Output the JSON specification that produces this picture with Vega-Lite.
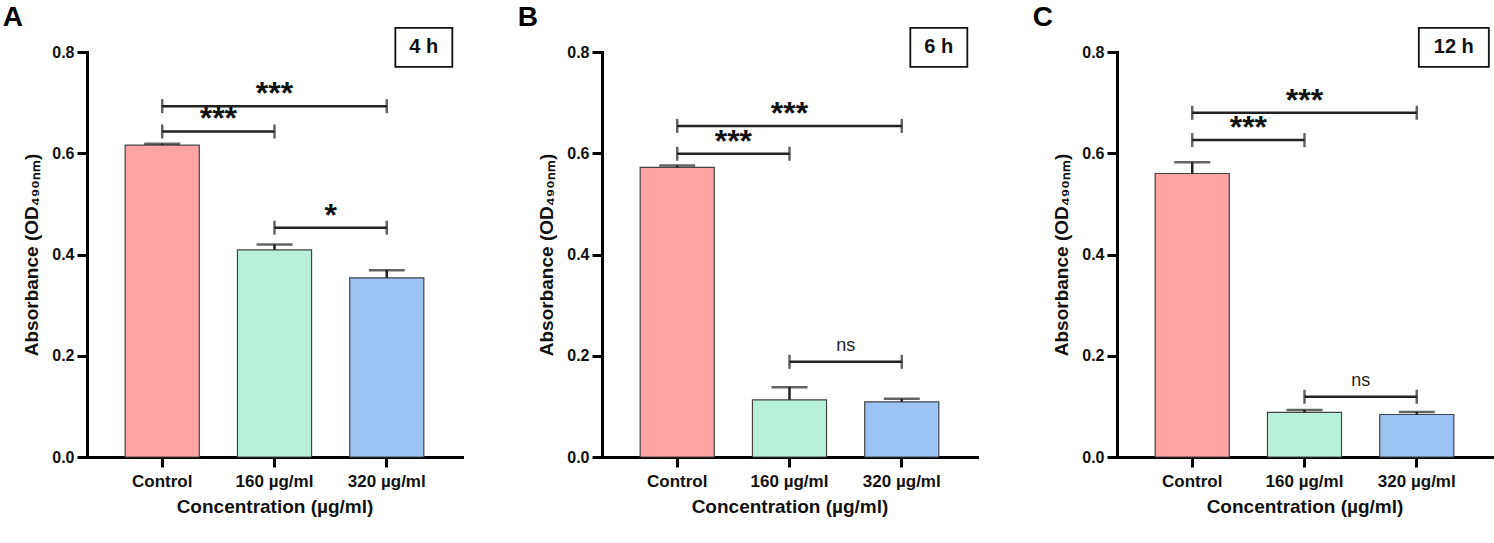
{
  "$schema": "https://vega.github.io/schema/vega-lite/v6.json",
  "background": "white",
  "padding": {"left": 2, "top": 4, "right": 2, "bottom": 2},
  "datasets": {
    "bars": [
      {"time": "4 h", "group": "Control", "mean": 0.616, "upper": 0.619},
      {"time": "4 h", "group": "160 µg/ml", "mean": 0.409, "upper": 0.420},
      {"time": "4 h", "group": "320 µg/ml", "mean": 0.354, "upper": 0.369},
      {"time": "6 h", "group": "Control", "mean": 0.572, "upper": 0.576},
      {"time": "6 h", "group": "160 µg/ml", "mean": 0.113, "upper": 0.138},
      {"time": "6 h", "group": "320 µg/ml", "mean": 0.109, "upper": 0.115},
      {"time": "12 h", "group": "Control", "mean": 0.560, "upper": 0.582},
      {"time": "12 h", "group": "160 µg/ml", "mean": 0.088, "upper": 0.093},
      {"time": "12 h", "group": "320 µg/ml", "mean": 0.084, "upper": 0.089}
    ],
    "brackets": [
      {"time": "4 h", "from": "Control", "to": "160 µg/ml", "y": 0.643, "label": "***"},
      {"time": "4 h", "from": "Control", "to": "320 µg/ml", "y": 0.693, "label": "***"},
      {"time": "4 h", "from": "160 µg/ml", "to": "320 µg/ml", "y": 0.453, "label": "*"},
      {"time": "6 h", "from": "Control", "to": "160 µg/ml", "y": 0.599, "label": "***"},
      {"time": "6 h", "from": "Control", "to": "320 µg/ml", "y": 0.654, "label": "***"},
      {"time": "6 h", "from": "160 µg/ml", "to": "320 µg/ml", "y": 0.188, "label": "ns"},
      {"time": "12 h", "from": "Control", "to": "160 µg/ml", "y": 0.626, "label": "***"},
      {"time": "12 h", "from": "Control", "to": "320 µg/ml", "y": 0.680, "label": "***"},
      {"time": "12 h", "from": "160 µg/ml", "to": "320 µg/ml", "y": 0.119, "label": "ns"}
    ],
    "boxes": [
      {"time": "4 h"},
      {"time": "6 h"},
      {"time": "12 h"}
    ]
  },
  "spacing": 140,
  "bounds": "flush",
  "hconcat": [
    {
      "title": {"text": "A"},
      "width": 375,
      "height": 405,
      "layer": [
        {
          "data": {"name": "bars"},
          "transform": [{"filter": "datum.time === '4 h'"}],
          "layer": [
            {
              "mark": {"type": "bar", "stroke": "#444", "strokeWidth": 1.2},
              "encoding": {
                "x": {"field": "group", "type": "nominal", "title": "Concentration (µg/ml)",
                      "scale": {"domain": ["Control", "160 µg/ml", "320 µg/ml"], "paddingInner": 0.34, "paddingOuter": 0.34}},
                "y": {"field": "mean", "type": "quantitative", "title": "Absorbance (OD₄₉₀ₙₘ)",
                      "scale": {"domain": [0, 0.8], "nice": false}},
                "fill": {"field": "group", "type": "nominal", "legend": null,
                         "scale": {"domain": ["Control", "160 µg/ml", "320 µg/ml"], "range": ["#ffa3a3", "#b8f0dc", "#9dc3f5"]}}
              }
            },
            {
              "mark": {"type": "rule", "color": "#222", "strokeWidth": 2.5},
              "encoding": {
                "x": {"field": "group", "type": "nominal", "title": "Concentration (µg/ml)"},
                "y": {"field": "mean", "type": "quantitative", "title": "Absorbance (OD₄₉₀ₙₘ)"},
                "y2": {"field": "upper"}
              }
            },
            {
              "mark": {"type": "tick", "orient": "horizontal", "color": "#222", "size": 36, "thickness": 2.5},
              "encoding": {
                "x": {"field": "group", "type": "nominal", "title": "Concentration (µg/ml)"},
                "y": {"field": "upper", "type": "quantitative", "title": "Absorbance (OD₄₉₀ₙₘ)"}
              }
            }
          ]
        },
        {
          "data": {"name": "brackets"},
          "transform": [{"filter": "datum.time === '4 h'"}],
          "layer": [
            {
              "mark": {"type": "rule", "color": "#222", "strokeWidth": 2.5},
              "encoding": {
                "x": {"field": "from", "type": "nominal", "title": "Concentration (µg/ml)"},
                "x2": {"field": "to"},
                "y": {"field": "y", "type": "quantitative", "title": "Absorbance (OD₄₉₀ₙₘ)"}
              }
            },
            {
              "mark": {"type": "tick", "orient": "vertical", "color": "#222", "size": 14, "thickness": 2.5},
              "encoding": {
                "x": {"field": "from", "type": "nominal", "title": "Concentration (µg/ml)"},
                "y": {"field": "y", "type": "quantitative", "title": "Absorbance (OD₄₉₀ₙₘ)"}
              }
            },
            {
              "mark": {"type": "tick", "orient": "vertical", "color": "#222", "size": 14, "thickness": 2.5},
              "encoding": {
                "x": {"field": "to", "type": "nominal", "title": "Concentration (µg/ml)"},
                "y": {"field": "y", "type": "quantitative", "title": "Absorbance (OD₄₉₀ₙₘ)"}
              }
            },
            {
              "transform": [{"filter": "datum.from === 'Control' && datum.to === '320 µg/ml'"}],
              "mark": {"type": "text", "fontSize": 32, "fontWeight": "bold", "baseline": "alphabetic", "dy": -2, "color": "#111"},
              "encoding": {
                "x": {"datum": "160 µg/ml", "type": "nominal", "title": "Concentration (µg/ml)"},
                "y": {"field": "y", "type": "quantitative", "title": "Absorbance (OD₄₉₀ₙₘ)"},
                "text": {"field": "label"}
              }
            },
            {
              "transform": [{"filter": "!(datum.from === 'Control' && datum.to === '320 µg/ml') && datum.label !== 'ns'"}],
              "mark": {"type": "text", "fontSize": 32, "fontWeight": "bold", "baseline": "alphabetic", "dy": -2, "color": "#111"},
              "encoding": {
                "x": {"field": "from", "type": "nominal", "bandPosition": 1.2576, "title": "Concentration (µg/ml)"},
                "y": {"field": "y", "type": "quantitative", "title": "Absorbance (OD₄₉₀ₙₘ)"},
                "text": {"field": "label"}
              }
            },
            {
              "transform": [{"filter": "datum.label === 'ns'"}],
              "mark": {"type": "text", "fontSize": 18, "baseline": "alphabetic", "dy": -11, "color": "#222"},
              "encoding": {
                "x": {"field": "from", "type": "nominal", "bandPosition": 1.2576, "title": "Concentration (µg/ml)"},
                "y": {"field": "y", "type": "quantitative", "title": "Absorbance (OD₄₉₀ₙₘ)"},
                "text": {"field": "label"}
              }
            }
          ]
        },
        {
          "data": {"name": "boxes"},
          "transform": [{"filter": "datum.time === '4 h'"}],
          "layer": [
            {
              "mark": {"type": "point", "filled": false, "fill": "white", "stroke": "#111", "strokeWidth": 1.8, "opacity": 1,
                       "shape": "M-1,-0.684L1,-0.684L1,0.684L-1,0.684Z", "size": 3249},
              "encoding": {
                "x": {"datum": "320 µg/ml", "type": "nominal", "bandPosition": 1, "title": "Concentration (µg/ml)"},
                "y": {"datum": 0.809, "type": "quantitative", "title": "Absorbance (OD₄₉₀ₙₘ)"}
              }
            },
            {
              "mark": {"type": "text", "fontSize": 20, "fontWeight": "bold", "baseline": "middle", "color": "#111"},
              "encoding": {
                "x": {"datum": "320 µg/ml", "type": "nominal", "bandPosition": 1, "title": "Concentration (µg/ml)"},
                "y": {"datum": 0.809, "type": "quantitative", "title": "Absorbance (OD₄₉₀ₙₘ)"},
                "text": {"field": "time"}
              }
            }
          ]
        }
      ]
    },
    {
      "title": {"text": "B"},
      "width": 375,
      "height": 405,
      "layer": [
        {
          "data": {"name": "bars"},
          "transform": [{"filter": "datum.time === '6 h'"}],
          "layer": [
            {
              "mark": {"type": "bar", "stroke": "#444", "strokeWidth": 1.2},
              "encoding": {
                "x": {"field": "group", "type": "nominal", "title": "Concentration (µg/ml)",
                      "scale": {"domain": ["Control", "160 µg/ml", "320 µg/ml"], "paddingInner": 0.34, "paddingOuter": 0.34}},
                "y": {"field": "mean", "type": "quantitative", "title": "Absorbance (OD₄₉₀ₙₘ)",
                      "scale": {"domain": [0, 0.8], "nice": false}},
                "fill": {"field": "group", "type": "nominal", "legend": null,
                         "scale": {"domain": ["Control", "160 µg/ml", "320 µg/ml"], "range": ["#ffa3a3", "#b8f0dc", "#9dc3f5"]}}
              }
            },
            {
              "mark": {"type": "rule", "color": "#222", "strokeWidth": 2.5},
              "encoding": {
                "x": {"field": "group", "type": "nominal", "title": "Concentration (µg/ml)"},
                "y": {"field": "mean", "type": "quantitative", "title": "Absorbance (OD₄₉₀ₙₘ)"},
                "y2": {"field": "upper"}
              }
            },
            {
              "mark": {"type": "tick", "orient": "horizontal", "color": "#222", "size": 36, "thickness": 2.5},
              "encoding": {
                "x": {"field": "group", "type": "nominal", "title": "Concentration (µg/ml)"},
                "y": {"field": "upper", "type": "quantitative", "title": "Absorbance (OD₄₉₀ₙₘ)"}
              }
            }
          ]
        },
        {
          "data": {"name": "brackets"},
          "transform": [{"filter": "datum.time === '6 h'"}],
          "layer": [
            {
              "mark": {"type": "rule", "color": "#222", "strokeWidth": 2.5},
              "encoding": {
                "x": {"field": "from", "type": "nominal", "title": "Concentration (µg/ml)"},
                "x2": {"field": "to"},
                "y": {"field": "y", "type": "quantitative", "title": "Absorbance (OD₄₉₀ₙₘ)"}
              }
            },
            {
              "mark": {"type": "tick", "orient": "vertical", "color": "#222", "size": 14, "thickness": 2.5},
              "encoding": {
                "x": {"field": "from", "type": "nominal", "title": "Concentration (µg/ml)"},
                "y": {"field": "y", "type": "quantitative", "title": "Absorbance (OD₄₉₀ₙₘ)"}
              }
            },
            {
              "mark": {"type": "tick", "orient": "vertical", "color": "#222", "size": 14, "thickness": 2.5},
              "encoding": {
                "x": {"field": "to", "type": "nominal", "title": "Concentration (µg/ml)"},
                "y": {"field": "y", "type": "quantitative", "title": "Absorbance (OD₄₉₀ₙₘ)"}
              }
            },
            {
              "transform": [{"filter": "datum.from === 'Control' && datum.to === '320 µg/ml'"}],
              "mark": {"type": "text", "fontSize": 32, "fontWeight": "bold", "baseline": "alphabetic", "dy": -2, "color": "#111"},
              "encoding": {
                "x": {"datum": "160 µg/ml", "type": "nominal", "title": "Concentration (µg/ml)"},
                "y": {"field": "y", "type": "quantitative", "title": "Absorbance (OD₄₉₀ₙₘ)"},
                "text": {"field": "label"}
              }
            },
            {
              "transform": [{"filter": "!(datum.from === 'Control' && datum.to === '320 µg/ml') && datum.label !== 'ns'"}],
              "mark": {"type": "text", "fontSize": 32, "fontWeight": "bold", "baseline": "alphabetic", "dy": -2, "color": "#111"},
              "encoding": {
                "x": {"field": "from", "type": "nominal", "bandPosition": 1.2576, "title": "Concentration (µg/ml)"},
                "y": {"field": "y", "type": "quantitative", "title": "Absorbance (OD₄₉₀ₙₘ)"},
                "text": {"field": "label"}
              }
            },
            {
              "transform": [{"filter": "datum.label === 'ns'"}],
              "mark": {"type": "text", "fontSize": 18, "baseline": "alphabetic", "dy": -11, "color": "#222"},
              "encoding": {
                "x": {"field": "from", "type": "nominal", "bandPosition": 1.2576, "title": "Concentration (µg/ml)"},
                "y": {"field": "y", "type": "quantitative", "title": "Absorbance (OD₄₉₀ₙₘ)"},
                "text": {"field": "label"}
              }
            }
          ]
        },
        {
          "data": {"name": "boxes"},
          "transform": [{"filter": "datum.time === '6 h'"}],
          "layer": [
            {
              "mark": {"type": "point", "filled": false, "fill": "white", "stroke": "#111", "strokeWidth": 1.8, "opacity": 1,
                       "shape": "M-1,-0.684L1,-0.684L1,0.684L-1,0.684Z", "size": 3249},
              "encoding": {
                "x": {"datum": "320 µg/ml", "type": "nominal", "bandPosition": 1, "title": "Concentration (µg/ml)"},
                "y": {"datum": 0.809, "type": "quantitative", "title": "Absorbance (OD₄₉₀ₙₘ)"}
              }
            },
            {
              "mark": {"type": "text", "fontSize": 20, "fontWeight": "bold", "baseline": "middle", "color": "#111"},
              "encoding": {
                "x": {"datum": "320 µg/ml", "type": "nominal", "bandPosition": 1, "title": "Concentration (µg/ml)"},
                "y": {"datum": 0.809, "type": "quantitative", "title": "Absorbance (OD₄₉₀ₙₘ)"},
                "text": {"field": "time"}
              }
            }
          ]
        }
      ]
    },
    {
      "title": {"text": "C"},
      "width": 375,
      "height": 405,
      "layer": [
        {
          "data": {"name": "bars"},
          "transform": [{"filter": "datum.time === '12 h'"}],
          "layer": [
            {
              "mark": {"type": "bar", "stroke": "#444", "strokeWidth": 1.2},
              "encoding": {
                "x": {"field": "group", "type": "nominal", "title": "Concentration (µg/ml)",
                      "scale": {"domain": ["Control", "160 µg/ml", "320 µg/ml"], "paddingInner": 0.34, "paddingOuter": 0.34}},
                "y": {"field": "mean", "type": "quantitative", "title": "Absorbance (OD₄₉₀ₙₘ)",
                      "scale": {"domain": [0, 0.8], "nice": false}},
                "fill": {"field": "group", "type": "nominal", "legend": null,
                         "scale": {"domain": ["Control", "160 µg/ml", "320 µg/ml"], "range": ["#ffa3a3", "#b8f0dc", "#9dc3f5"]}}
              }
            },
            {
              "mark": {"type": "rule", "color": "#222", "strokeWidth": 2.5},
              "encoding": {
                "x": {"field": "group", "type": "nominal", "title": "Concentration (µg/ml)"},
                "y": {"field": "mean", "type": "quantitative", "title": "Absorbance (OD₄₉₀ₙₘ)"},
                "y2": {"field": "upper"}
              }
            },
            {
              "mark": {"type": "tick", "orient": "horizontal", "color": "#222", "size": 36, "thickness": 2.5},
              "encoding": {
                "x": {"field": "group", "type": "nominal", "title": "Concentration (µg/ml)"},
                "y": {"field": "upper", "type": "quantitative", "title": "Absorbance (OD₄₉₀ₙₘ)"}
              }
            }
          ]
        },
        {
          "data": {"name": "brackets"},
          "transform": [{"filter": "datum.time === '12 h'"}],
          "layer": [
            {
              "mark": {"type": "rule", "color": "#222", "strokeWidth": 2.5},
              "encoding": {
                "x": {"field": "from", "type": "nominal", "title": "Concentration (µg/ml)"},
                "x2": {"field": "to"},
                "y": {"field": "y", "type": "quantitative", "title": "Absorbance (OD₄₉₀ₙₘ)"}
              }
            },
            {
              "mark": {"type": "tick", "orient": "vertical", "color": "#222", "size": 14, "thickness": 2.5},
              "encoding": {
                "x": {"field": "from", "type": "nominal", "title": "Concentration (µg/ml)"},
                "y": {"field": "y", "type": "quantitative", "title": "Absorbance (OD₄₉₀ₙₘ)"}
              }
            },
            {
              "mark": {"type": "tick", "orient": "vertical", "color": "#222", "size": 14, "thickness": 2.5},
              "encoding": {
                "x": {"field": "to", "type": "nominal", "title": "Concentration (µg/ml)"},
                "y": {"field": "y", "type": "quantitative", "title": "Absorbance (OD₄₉₀ₙₘ)"}
              }
            },
            {
              "transform": [{"filter": "datum.from === 'Control' && datum.to === '320 µg/ml'"}],
              "mark": {"type": "text", "fontSize": 32, "fontWeight": "bold", "baseline": "alphabetic", "dy": -2, "color": "#111"},
              "encoding": {
                "x": {"datum": "160 µg/ml", "type": "nominal", "title": "Concentration (µg/ml)"},
                "y": {"field": "y", "type": "quantitative", "title": "Absorbance (OD₄₉₀ₙₘ)"},
                "text": {"field": "label"}
              }
            },
            {
              "transform": [{"filter": "!(datum.from === 'Control' && datum.to === '320 µg/ml') && datum.label !== 'ns'"}],
              "mark": {"type": "text", "fontSize": 32, "fontWeight": "bold", "baseline": "alphabetic", "dy": -2, "color": "#111"},
              "encoding": {
                "x": {"field": "from", "type": "nominal", "bandPosition": 1.2576, "title": "Concentration (µg/ml)"},
                "y": {"field": "y", "type": "quantitative", "title": "Absorbance (OD₄₉₀ₙₘ)"},
                "text": {"field": "label"}
              }
            },
            {
              "transform": [{"filter": "datum.label === 'ns'"}],
              "mark": {"type": "text", "fontSize": 18, "baseline": "alphabetic", "dy": -11, "color": "#222"},
              "encoding": {
                "x": {"field": "from", "type": "nominal", "bandPosition": 1.2576, "title": "Concentration (µg/ml)"},
                "y": {"field": "y", "type": "quantitative", "title": "Absorbance (OD₄₉₀ₙₘ)"},
                "text": {"field": "label"}
              }
            }
          ]
        },
        {
          "data": {"name": "boxes"},
          "transform": [{"filter": "datum.time === '12 h'"}],
          "layer": [
            {
              "mark": {"type": "point", "filled": false, "fill": "white", "stroke": "#111", "strokeWidth": 1.8, "opacity": 1,
                       "shape": "M-1,-0.557L1,-0.557L1,0.557L-1,0.557Z", "size": 4900},
              "encoding": {
                "x": {"datum": "320 µg/ml", "type": "nominal", "bandPosition": 1, "title": "Concentration (µg/ml)"},
                "y": {"datum": 0.809, "type": "quantitative", "title": "Absorbance (OD₄₉₀ₙₘ)"}
              }
            },
            {
              "mark": {"type": "text", "fontSize": 20, "fontWeight": "bold", "baseline": "middle", "color": "#111"},
              "encoding": {
                "x": {"datum": "320 µg/ml", "type": "nominal", "bandPosition": 1, "title": "Concentration (µg/ml)"},
                "y": {"datum": 0.809, "type": "quantitative", "title": "Absorbance (OD₄₉₀ₙₘ)"},
                "text": {"field": "time"}
              }
            }
          ]
        }
      ]
    }
  ],
  "config": {
    "font": "Liberation Sans",
    "view": {"stroke": null},
    "title": {"anchor": "start", "frame": "bounds", "fontSize": 28, "fontWeight": "bold", "color": "#000", "dx": -20, "offset": -8},
    "axis": {
      "grid": false,
      "domainColor": "#000",
      "domainWidth": 3,
      "domainCap": "square",
      "tickColor": "#000",
      "tickWidth": 3,
      "tickSize": 10,
      "labelColor": "#111",
      "labelFontWeight": "bold",
      "titleColor": "#111",
      "titleFontWeight": "bold",
      "titleFontSize": 19
    },
    "axisX": {"labelFontSize": 17, "labelAngle": 0, "labelPadding": 6, "titlePadding": 8},
    "axisY": {"labelFontSize": 16, "labelPadding": 3, "titlePadding": 10, "tickCount": 4, "format": ".1f"}
  }
}
